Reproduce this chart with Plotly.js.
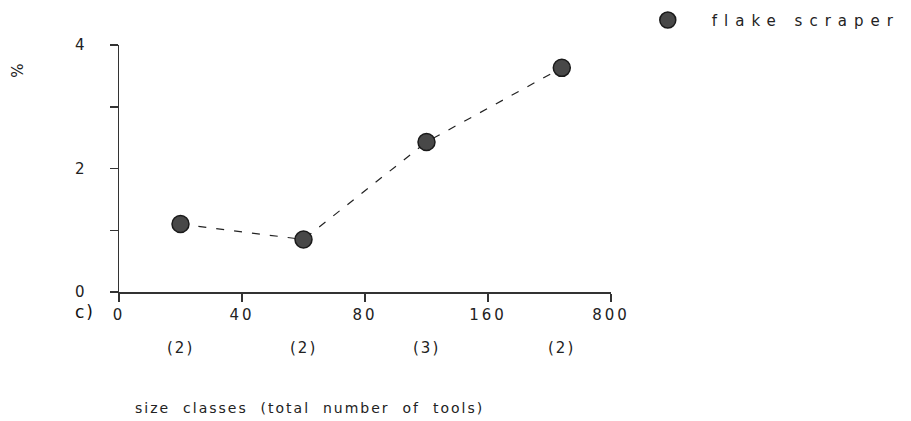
<!DOCTYPE html>
<html><head><meta charset="utf-8">
<script src="https://cdn.plot.ly/plotly-3.0.1.min.js"></script>
<style>body{margin:0;background:#fff}</style>
</head><body>
<div id="chart" style="width:911px;height:421px"></div>
<script>
// size-class positions (midpoints between class bounds) and percentages
const classPos = [0.5, 1.5, 2.5, 3.6];
const percent = [1.1, 0.85, 2.43, 3.63];
const counts = ["(2)", "(2)", "(3)", "(2)"];
const boundPos = [0, 1, 2, 3, 4];
const boundLabels = ["0", "40", "80", "160", "800"];
const seriesName = "flake scraper";
const xTitle = "size\u00A0 classes\u00A0 (total\u00A0 number\u00A0 of\u00A0 tools)";

const font = {family: "DejaVu Sans, sans-serif", size: 15, color: "#222"};
const markerStyle = {size: 17, color: "#484848", line: {color: "#1a1a1a", width: 1.5}};

const lineTrace = {
  x: classPos, y: percent, type: "scatter", mode: "lines", showlegend: false,
  line: {color: "#222", width: 1.2, dash: "8px,10px"}, hoverinfo: "skip"
};
const markerTrace = {
  x: classPos, y: percent, type: "scatter", mode: "markers",
  name: seriesName, marker: markerStyle
};

const annotations = counts.map((c, i) => ({
  x: classPos[i], xref: "x", y: -0.228, yref: "paper",
  text: c, showarrow: false, font: font, xanchor: "center", yanchor: "middle"
}));
annotations.push({x: -0.07, xref: "paper", y: -0.082, yref: "paper", text: "c)",
  showarrow: false, font: {family: font.family, size: 17, color: "#111"}, xanchor: "center", yanchor: "middle"});
annotations.push({x: -0.205, xref: "paper", y: 0.9, yref: "paper", text: "%", textangle: -90,
  showarrow: false, font: {family: font.family, size: 15, color: "#222"}, xanchor: "center", yanchor: "middle"});
annotations.push({x: 0.388, xref: "paper", y: -0.47, yref: "paper", text: xTitle,
  showarrow: false, font: {family: font.family, size: 14, color: "#222"}, xanchor: "center", yanchor: "middle"});

const layout = {
  width: 911, height: 421,
  margin: {l: 119, r: 300, t: 45, b: 129, autoexpand: false},
  paper_bgcolor: "#fff", plot_bgcolor: "#fff",
  font: font,
  xaxis: {
    range: [0, 4], tickmode: "array", tickvals: boundPos, ticktext: boundLabels,
    showgrid: false, zeroline: false, showline: true, linecolor: "#333", linewidth: 1.5,
    ticks: "outside", ticklen: 8, tickcolor: "#333", tickwidth: 1.5,
    tickfont: font, fixedrange: true, automargin: false
  },
  yaxis: {
    range: [0, 4], tickmode: "array", tickvals: [0, 1, 2, 3, 4], ticktext: ["0", "", "2", "", "4"],
    showgrid: false, zeroline: false, showline: true, linecolor: "#333", linewidth: 1.5,
    ticks: "outside", ticklen: 8, tickcolor: "#333", tickwidth: 1.5,
    tickfont: font, ticklabelstandoff: 22, fixedrange: true, automargin: false
  },
  showlegend: true,
  legend: {x: 1.026, xanchor: "left", y: 1.10, yanchor: "middle",
    font: {family: font.family, size: 15, color: "#222"}, bgcolor: "rgba(0,0,0,0)",
    itemwidth: 78, entrywidth: 260},
  annotations: annotations
};

Plotly.newPlot("chart", [lineTrace, markerTrace], layout, {staticPlot: true}).then(() => {
  document.querySelectorAll(".legend [clip-path]").forEach(e => e.removeAttribute("clip-path"));
  document.querySelectorAll(".legendtext").forEach(t => t.style.letterSpacing = "7px");
  document.querySelectorAll(".annotation-text").forEach(t => t.style.letterSpacing = "2px");
  document.querySelectorAll(".xtick text").forEach(t => t.style.letterSpacing = "3px");
});
</script>
</body></html>
